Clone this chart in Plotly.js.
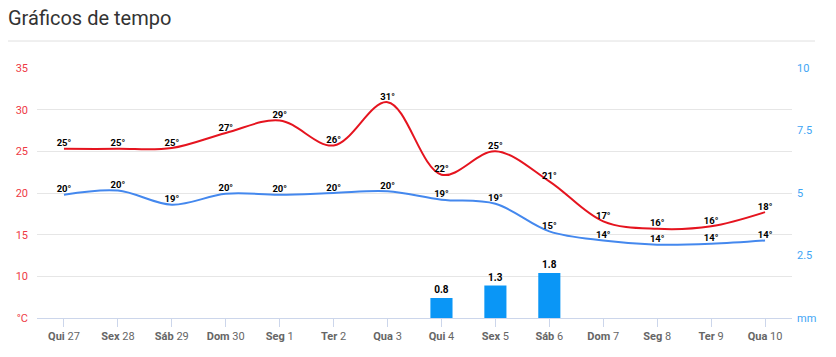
<!DOCTYPE html>
<html>
<head>
<meta charset="utf-8">
<script src="https://cdn.plot.ly/plotly-3.0.1.min.js"></script>
<style>
html,body{margin:0;padding:0;background:#fff;}
#chart{width:836px;height:357px;}
</style>
</head>
<body>
<div id="chart"></div>
<script>
const dayNames = ['Qui','Sex','Sáb','Dom','Seg','Ter','Qua','Qui','Sex','Sáb','Dom','Seg','Ter','Qua'];
const dayNums = ['27','28','29','30','1','2','3','4','5','6','7','8','9','10'];
const maxTemp = [25.3,25.3,25.4,27.2,28.7,25.7,30.9,22.2,25.0,21.4,16.6,15.7,16.0,17.7];
const minTemp = [19.8,20.3,18.6,19.9,19.8,20.0,20.2,19.2,18.7,15.4,14.3,13.8,13.9,14.3];
const maxLabels = ['25°','25°','25°','27°','29°','26°','31°','22°','25°','21°','17°','16°','16°','18°'];
const minLabels = ['20°','20°','19°','20°','20°','20°','20°','19°','19°','15°','14°','14°','14°','14°'];
const rain = [null,null,null,null,null,null,null,0.8,1.3,1.8,null,null,null,null];
const rainLabels = ['','','','','','','','0.8','1.3','1.8','','','',''];
const leftTicks = [5,10,15,20,25,30,35];
const leftTickText = ['°C','10','15','20','25','30','35'];
const rightTicks = [0,2.5,5,7.5,10];
const rightTickText = ['mm','2.5','5','7.5','10'];

const idx = dayNames.map((d,i)=>i);
const tickText = dayNames.map((d,i)=>'<b>'+d+'</b> '+dayNums[i]);

const traces = [
  {
    type:'bar', x: idx, y: rain, yaxis:'y2',
    marker:{color:'#0a96f6'}, width:0.41,
    text: rainLabels, textposition:'outside', cliponaxis:false,
    textfont:{family:'Roboto, sans-serif', size:10, color:'#000', weight:'bold'},
    hoverinfo:'skip'
  },
  {
    type:'scatter', mode:'lines+text', x: idx, y: maxTemp,
    line:{color:'#e5141f', width:2, shape:'spline', smoothing:1},
    text: maxLabels, textposition:'top center', cliponaxis:false,
    textfont:{family:'Roboto, sans-serif', size:9.5, color:'#000', weight:'bold'},
    hoverinfo:'skip'
  },
  {
    type:'scatter', mode:'lines+text', x: idx, y: minTemp,
    line:{color:'#4488ee', width:2, shape:'spline', smoothing:1},
    text: minLabels, textposition:'top center', cliponaxis:false,
    textfont:{family:'Roboto, sans-serif', size:9.5, color:'#000', weight:'bold'},
    hoverinfo:'skip'
  }
];

const layout = {
  width:836, height:357,
  margin:{l:37, r:44, t:68, b:39},
  paper_bgcolor:'#fff', plot_bgcolor:'#fff',
  showlegend:false,
  font:{family:'Roboto, sans-serif'},
  title:{
    text:'Gráficos de tempo',
    font:{family:'Roboto, sans-serif', size:20, color:'#333'},
    xref:'container', yref:'container', x:8/836, xanchor:'left',
    y:1-18/357, yanchor:'middle'
  },
  xaxis:{
    range:[-0.5,13.5], tickmode:'array', tickvals: idx, ticktext: tickText,
    showgrid:false, zeroline:false,
    showline:true, linecolor:'#ccd6eb', linewidth:1,
    ticks:'outside', ticklen:8, tickcolor:'#ccd6eb', tickwidth:1,
    tickfont:{family:'Roboto, sans-serif', size:11, color:'#666'},
    fixedrange:true
  },
  yaxis:{
    range:[5,35], tickmode:'array', tickvals: leftTicks, ticktext: leftTickText,
    showgrid:true, gridcolor:'#e6e6e6', gridwidth:1, zeroline:false,
    showline:false, ticks:'', ticklabelstandoff:8,
    tickfont:{family:'Roboto, sans-serif', size:11, color:'#ee3a45'},
    fixedrange:true
  },
  yaxis2:{
    range:[0,10], overlaying:'y', side:'right',
    tickmode:'array', tickvals: rightTicks, ticktext: rightTickText,
    showgrid:false, zeroline:false, showline:false, ticks:'', ticklabelstandoff:4,
    tickfont:{family:'Roboto, sans-serif', size:11, color:'#3ea5f5'},
    fixedrange:true
  },
  shapes:[
    {type:'line', xref:'paper', yref:'paper', x0:(8-37)/755, x1:(815-37)/755,
     y0:(318-41)/250, y1:(318-41)/250, line:{color:'#e0e0e0', width:1}}
  ]
};

Plotly.newPlot('chart', traces, layout, {displayModeBar:false, staticPlot:true});
</script>
</body>
</html>
